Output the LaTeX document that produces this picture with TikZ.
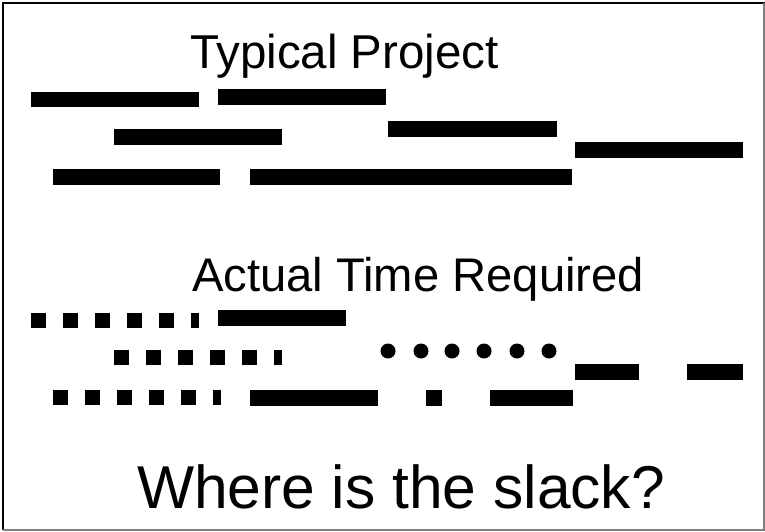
\documentclass[tikz,border=0pt]{standalone}
\usepackage{fontspec}
\setmainfont{Liberation Sans}
\begin{document}
\begin{tikzpicture}[x=1pt,y=-1pt,
  bar/.style={fill=black},
  lbl/.style={anchor=base west,inner sep=0pt,outer sep=0pt}]
\useasboundingbox (0,0) rectangle (765,531);
% frame
\draw[black,line width=2.5pt] (3,530) -- (3,3) -- (765,3);
\draw[gray,line width=1.5pt] (3,530) -- (764,530) -- (764,3);
% titles
\node[lbl,font=\fontsize{47.5}{50}\selectfont] (t1) at (190,68) {Typical Project};
\node[lbl,font=\fontsize{47.2}{50}\selectfont] (t2) at (192,291) {Actual Time Required};
\node[lbl,font=\fontsize{60.5}{64}\selectfont] (t3) at (137,508) {Where is the slack?};
% typical project bars
\fill[bar] (31,92) rectangle (199,107);
\fill[bar] (218,89) rectangle (386,105);
\fill[bar] (114,129) rectangle (282,145);
\fill[bar] (388,121) rectangle (557,137);
\fill[bar] (575,142) rectangle (743,158);
\fill[bar] (53,169) rectangle (220,185);
\fill[bar] (250,169) rectangle (572,185);
% actual time row 1
\foreach \x in {31,63,95,127,159} \fill[bar] (\x,313) rectangle ++(15,15);
\fill[bar] (191,313) rectangle (199,328);
\fill[bar] (218,310) rectangle (346,326);
% row 2
\foreach \x in {114,146,178,210,242} \fill[bar] (\x,350) rectangle ++(15,15);
\fill[bar] (274,350) rectangle (282,365);
\foreach \x in {388,421,452,484,517,549} \fill[bar] (\x,351) circle (7.5);
\fill[bar] (575,364) rectangle (639,380);
\fill[bar] (687,364) rectangle (743,380);
% row 3
\foreach \x in {53,85,117,149,181} \fill[bar] (\x,390) rectangle ++(15,15);
\fill[bar] (213,390) rectangle (221,405);
\fill[bar] (250,390) rectangle (378,406);
\fill[bar] (426,390) rectangle (442,406);
\fill[bar] (490,390) rectangle (573,406);
\end{tikzpicture}
\end{document}
